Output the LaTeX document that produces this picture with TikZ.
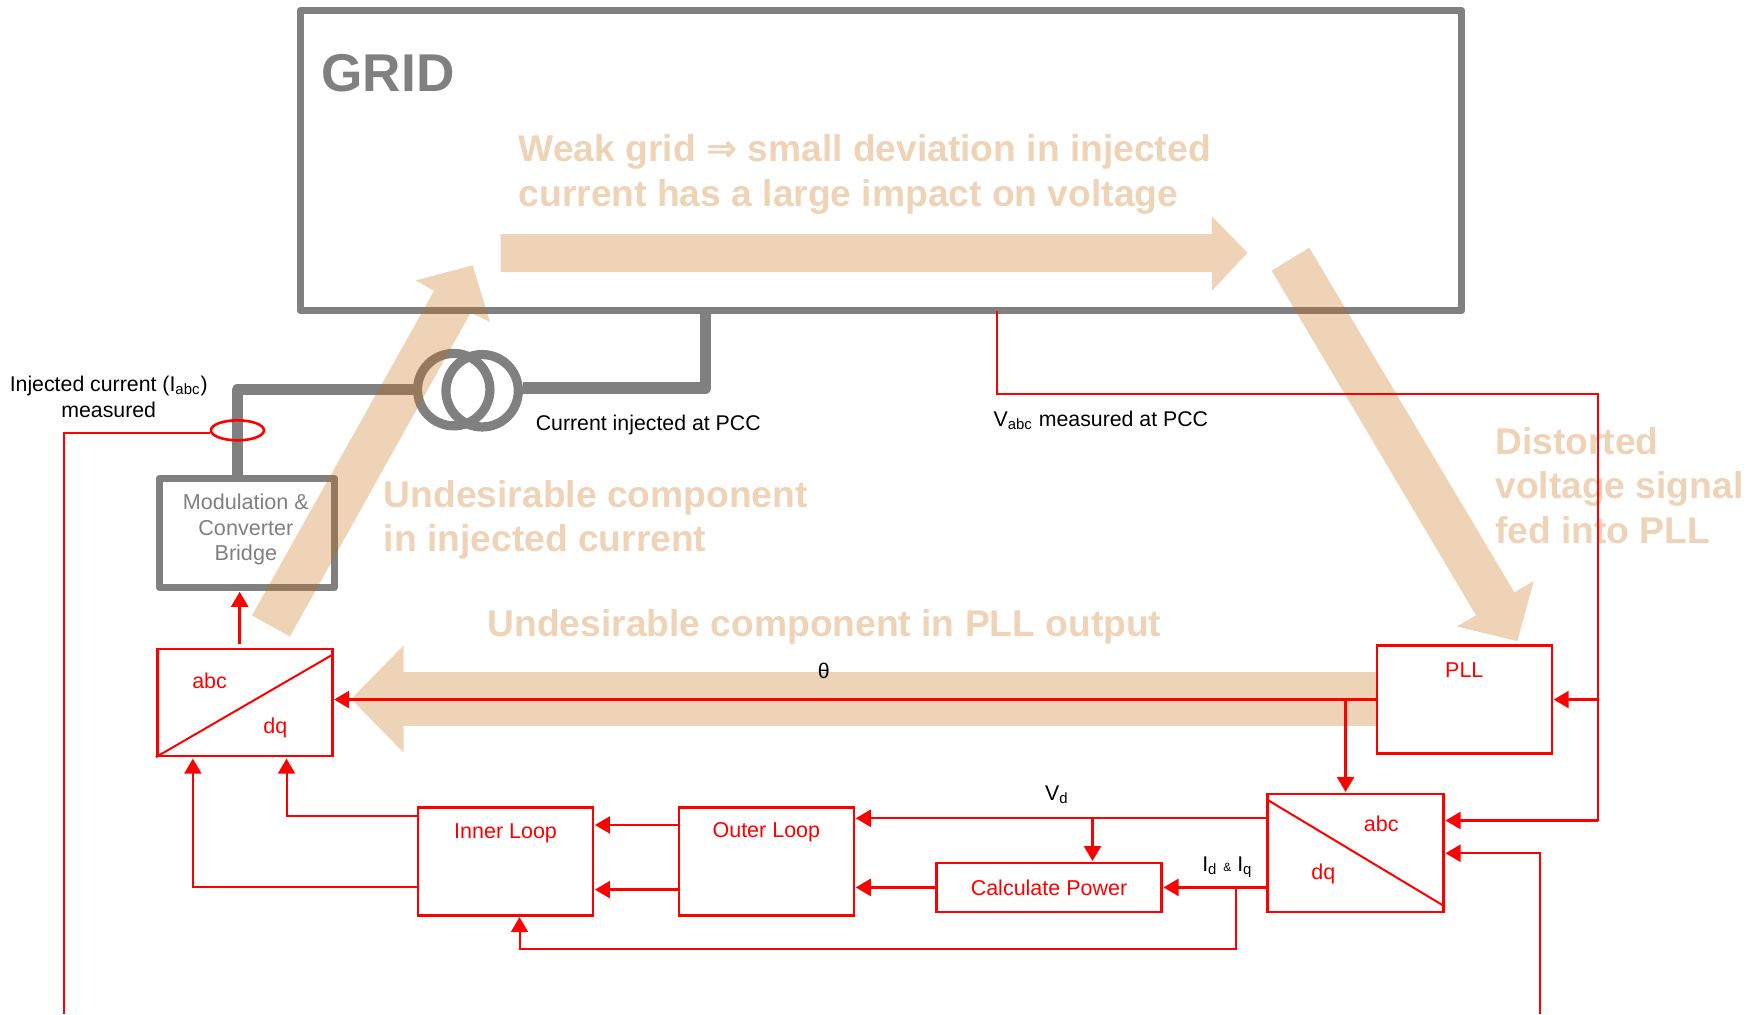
\documentclass[tikz,border=0pt]{standalone}
\usepackage{fontspec}
\setmainfont{Liberation Sans}
\newfontfamily\symbfont{DejaVu Sans}
\usetikzlibrary{shapes,arrows.meta,positioning}
\definecolor{flowcol}{HTML}{C66C12}
\definecolor{gridcol}{HTML}{808080}
\tikzset{
    block/.style={
           rectangle,
           draw=red, line width=1.3pt,
           minimum width=87.5pt,
           minimum height=54pt,
           inner sep=0pt
           },
    wire/.style={
           draw=red, line width=1pt
           },
    bus/.style={
           draw=red, line width=1.2pt
           },
    power/.style={
           draw=gridcol, line width=5.8pt, line join=round
           },
    winding/.style={
           circle,
           draw=gridcol, line width=4.6pt,
           minimum size=36.2pt,
           inner sep=0pt
           },
    flow/.style={
           fill=flowcol, fill opacity=0.3
           },
    flowtext/.style={
           text=flowcol, text opacity=0.3,
           anchor=west, align=left, inner sep=0pt,
           font=\bfseries\fontsize{18.6}{22.3}\selectfont
           },
    redtext/.style={
           text=red, inner sep=0pt,
           font=\fontsize{10.75}{12}\selectfont
           },
    blacktext/.style={
           text=black, inner sep=0pt, align=center,
           font=\fontsize{10.65}{13}\selectfont
           }
}

\begin{document}
\begin{tikzpicture}[x=0.5574pt, y=-0.5574pt, shorten >=0.3pt, >={Triangle[length=7.5pt,width=8.5pt]}, node distance=1.3cm, on grid]
   \useasboundingbox (0,0) rectangle (1568,909.7);

   % grid side
   \node[draw=gridcol, line width=3.9pt, line join=round, minimum width=580.5pt, minimum height=150pt, inner sep=0pt] (grid) at (790.25,144) {};
   \node[text=gridcol, anchor=west, inner sep=0pt, font=\bfseries\fontsize{26.6}{30}\selectfont] (gridname) at (288,66) {GRID};
   \node[winding] (twa) at (407,349.5) {};
   \node[winding] (twb) at (432.5,350.5) {};
   \node[draw=gridcol, line width=3.7pt, line join=round, minimum width=87.5pt, minimum height=54.6pt, inner sep=0pt] (conv) at (221.5,478) {};
   \node[text=gridcol, inner sep=0pt, align=center, font=\fontsize{10.8}{12.8}\selectfont] (convname) at (220.5,475) {Modulation \&\\Converter\\Bridge};
   \coordinate (gridtap) at (633,282);
   \coordinate (convtap) at (213,430);
   \draw[power, shorten >=0pt] (twa.west) -| (convtap);
   \draw[power, shorten >=0pt] ([yshift=1.3pt]twb.east) -| (gridtap);

   % flow arrows
   \path[flow] (449,210) -- (1087,210) -- (1087,194) -- (1119,226.7) -- (1087,261) -- (1087,244) -- (449,244) -- cycle;
   \path[flow] (226,552) -- (389.3,261) -- (373,251.5) -- (424,238) -- (439.5,288.8) -- (422.2,280.5) -- (260,571) -- cycle;
   \path[flow] (1174.5,222.2) -- (1358.4,531.3) -- (1375.8,521.2) -- (1361.1,575) -- (1306.7,561.9) -- (1324,552) -- (1140.7,242.8) -- cycle;
   \path[flow] (1235,603) -- (362,603) -- (362,579) -- (315,627) -- (362,675) -- (362,651) -- (1235,651) -- cycle;

   \node[flowtext] (weak) at (465,156.5) {Weak grid {\symbfont ⇒} small deviation in injected\\current has a large impact on voltage};
   \node[flowtext] (undinj) at (344,466.5) {Undesirable component\\in injected current};
   \node[flowtext] (undpll) at (437,562) {Undesirable component in PLL output};
   \node[flowtext] (dist) at (1341,435.5) {Distorted\\voltage signal\\fed into PLL};

   % control blocks
   \node[block, minimum height=53.5pt] (abcdqa) at (219.5,630) {};
   \node[block] (pll) at (1313.5,627.5) {};
   \node[block, minimum width=88pt, minimum height=59pt] (abcdqb) at (1216,765) {};
   \node[block] (inner) at (453.5,772.5) {};
   \node[block] (outer) [right=130.4pt of inner] {};
   \node[block, minimum width=112.6pt, minimum height=24.5pt] (power) at (941,796) {};
   \node[redtext] (pllname) [below=8.8pt of pll.north] {PLL};
   \node[redtext] (innername) [below=8.6pt of inner.north] {Inner Loop};
   \node[redtext] (outername) [below=8.1pt of outer.north] {Outer Loop};
   \node[redtext] (powername) at (power) {Calculate Power};
   \node[redtext] (abca) at (188,611) {abc};
   \node[redtext] (dqa) at (247,653) {dq};
   \node[redtext] (abcb) at (1239,739) {abc};
   \node[redtext] (dqb) at (1187,784) {dq};
   \draw[wire, shorten >=0pt] (abcdqa.south west) -- ([yshift=-3.3pt]abcdqa.north east);
   \draw[wire, shorten >=0pt] ([yshift=-3.3pt]abcdqb.north west) -- ([yshift=3.3pt]abcdqb.south east);

   % sensor
   \node[ellipse, draw=red, line width=1.3pt, minimum width=26.5pt, minimum height=10pt, inner sep=0pt] (sensor) at (213,386) {};
   \coordinate (ifeed) at (57,910);
   \draw[wire, shorten >=0pt] ([yshift=-1.1pt]sensor.west) -| (ifeed);
   \coordinate (vfeed) at (1381,910);
   \draw[wire, ->] (vfeed) |- ([yshift=-0.2pt]abcdqb.east);

   % voltage measurement
   \coordinate (vtap) at (894,279);
   \coordinate (vbus) at (1433,353);
   \coordinate (vcorner) at (1433,736);
   \coordinate (vpll) at (1433,627.5);
   \draw[wire, shorten >=0pt] (vtap) |- (vbus) -- (vcorner);
   \draw[bus, ->] (vcorner) -- (vcorner -| abcdqb.east);
   \draw[bus, ->] (vpll) -- (pll.east);

   % theta
   \coordinate (thetatap) at (1207,627.5);
   \draw[bus, ->] (pll.west) -- (pll.west -| abcdqa.east);
   \draw[bus, ->] (thetatap) -- (thetatap |- abcdqb.north);

   % dq signals
   \coordinate (vdline) at (1137,734);
   \coordinate (vdtap) at (980,734);
   \coordinate (idline) at (1137,796);
   \coordinate (idtap) at (1109,796);
   \coordinate (idlow) at (1109,851);
   \coordinate (innerin) at (466,851);
   \draw[bus, ->] (vdline) -- (vdline -| outer.east);
   \draw[bus, ->] (vdtap) -- (vdtap |- power.north);
   \draw[bus, ->] (idline) -- (power.east);
   \draw[bus, ->] (power.west) -- (power.west -| outer.east);
   \draw[wire, ->] (idtap) -- (idlow) -- (innerin) -- (innerin |- inner.south);

   % loops
   \coordinate (outa) at (609,740);
   \coordinate (outb) at (609,798);
   \coordinate (ina) at (375,732);
   \coordinate (inb) at (375,796);
   \coordinate (dqin) at (257,680);
   \coordinate (abcin) at (173,680);
   \coordinate (convin) at (215,578);
   \draw[bus, ->] (outa) -- (outa -| inner.east);
   \draw[bus, ->] (outb) -- (outb -| inner.east);
   \draw[wire, ->] (ina) -| (dqin);
   \draw[wire, ->] (inb) -| (abcin);
   \draw[bus, ->] (convin) -- (convin |- conv.south);

   % labels
   \node[blacktext] (ilabel) at (97.5,356) {Injected current (I\textsubscript{abc})\\measured};
   \node[blacktext] (pcclabel) at (581.5,381) {Current injected at PCC};
   \node[blacktext, anchor=west] (vlabel) at (891,377) {V\textsubscript{abc} measured at PCC};
   \node[blacktext] (thetalabel) at (739,602) {θ};
   \node[blacktext] (vdlabel) at (948,713) {V\textsubscript{d}};
   \node[blacktext] (idlabel) at (1101,778) {I\textsubscript{d} {\fontsize{6}{7}\selectfont\&} I\textsubscript{q}};
\end{tikzpicture}
\end{document}
